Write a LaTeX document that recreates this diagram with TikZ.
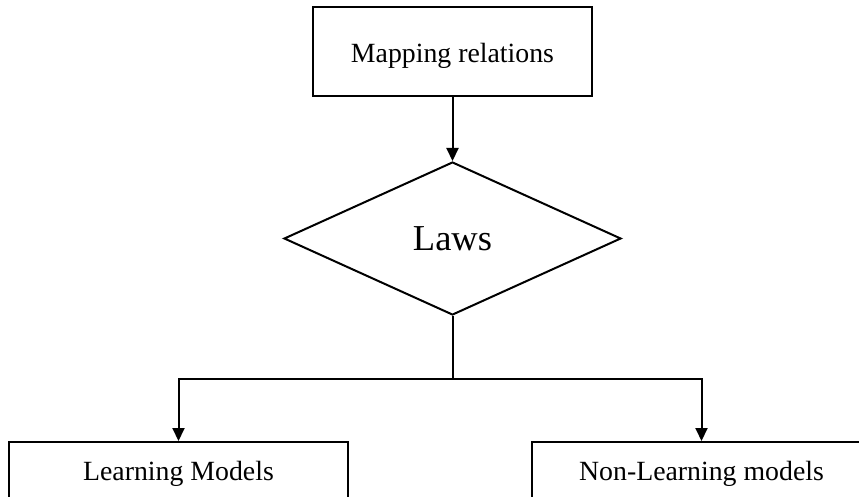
\documentclass[tikz,border=0pt]{standalone}
\usepackage{fontspec}
\setmainfont{Liberation Serif}
\usetikzlibrary{shapes.geometric,arrows.meta}

\begin{document}
\begin{tikzpicture}[x=1pt,y=-1pt,
  boxtext/.style={font=\fontsize{27.8}{32}\selectfont},
  stagebox/.style={draw, line width=2pt, rectangle, inner sep=0pt, boxtext},
  lawshape/.style={draw, line width=2pt, diamond, aspect=2.2, inner sep=0pt,
    minimum width=337pt, minimum height=153pt,
    font=\fontsize{36.5}{40}\selectfont},
  flow/.style={line width=2pt, -{Triangle[length=13pt,width=12pt]}},
  plain/.style={line width=2pt}]

  \useasboundingbox (0,0) rectangle (859,497);
  \clip (0,0) rectangle (859,497);

  % top box
  \node[stagebox, minimum width=279pt, minimum height=89pt,
        text height=23pt, text depth=0pt] (map) at (452.5,51.5) {Mapping relations};

  % decision diamond
  \node[lawshape] (laws) at (452.5,238.5) {Laws};

  % two outcome boxes (their lower edges run past the page)
  \node[stagebox, minimum width=339pt, minimum height=70pt,
        text height=18pt, text depth=12pt] (learn) at (178.5,477) {Learning Models};
  \node[stagebox, minimum width=339pt, minimum height=70pt,
        text height=18pt, text depth=12pt] (nonlearn) at (701.5,477) {Non-Learning models};

  % connectors
  \coordinate (branch) at (452.5,379);
  \draw[flow] (map.south) -- (laws.north);
  \draw[plain] (laws.south) -- (branch);
  \draw[flow] (branch) -| (learn.north);
  \draw[flow] (branch) -| (nonlearn.north);
\end{tikzpicture}
\end{document}
